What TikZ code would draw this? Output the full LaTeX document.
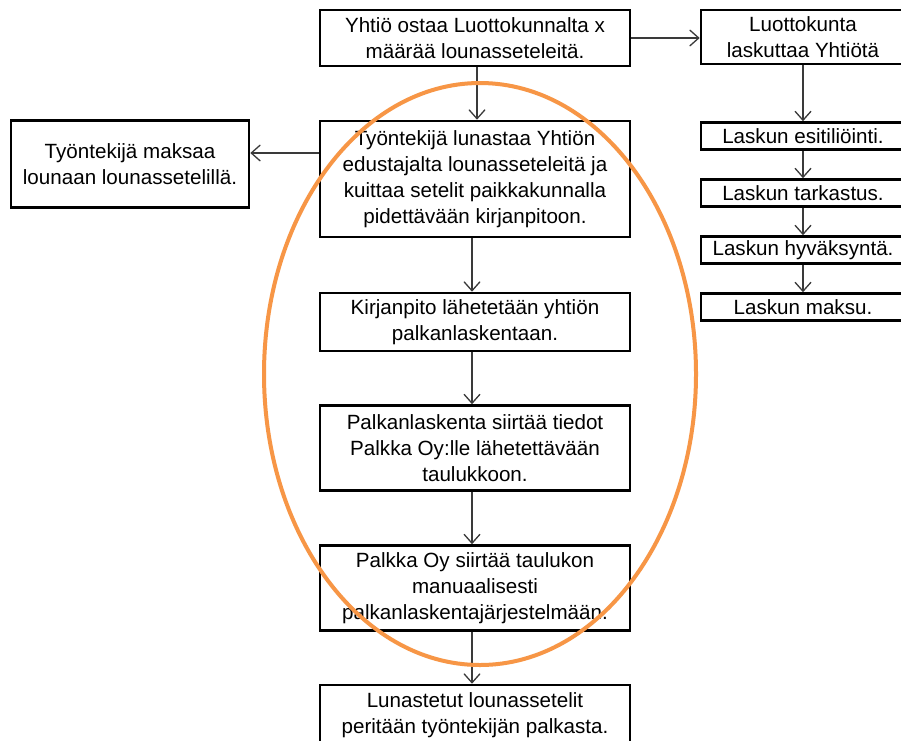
\documentclass[tikz,border=0pt]{standalone}
\usepackage{fontspec}
\setmainfont{Liberation Sans}
\usepackage{xcolor}
\usepackage{tikz}
\usetikzlibrary{arrows.meta, positioning}

\definecolor{oranssi}{HTML}{F79646}
\definecolor{nuolenharmaa}{HTML}{3A3A3A}

\begin{document}
\begin{tikzpicture}[x=1pt, y=-1pt,
    >={Straight Barb[length=9pt, width=16pt]},
    laatikko/.style={draw, line width=2.6pt, inner sep=0pt, align=center,
        font=\fontsize{20.6}{26}\selectfont},
    keski/.style={laatikko, minimum width=310pt},
    oikea/.style={laatikko, minimum width=204pt, minimum height=27pt},
    nuoli/.style={->, line width=1.3pt, draw=nuolenharmaa}]

    % =================================================================
    % 1. KUVAN RAJAT
    % =================================================================
    \useasboundingbox (0,0) rectangle (901,740);
    \clip (0,0) rectangle (901,740);
    \fill[white] (0,0) rectangle (901,740);

    % =================================================================
    % 2. KESKIMMÄINEN SARAKE
    % =================================================================
    \node[keski, minimum height=56pt] (yhtio) at (475,38)
        {Yhtiö ostaa Luottokunnalta x\\määrää lounasseteleitä.};
    \node[keski, minimum height=116pt] (lunastaa) at (475,179)
        {Työntekijä lunastaa Yhtiön\\edustajalta lounasseteleitä ja\\kuittaa setelit paikkakunnalla\\pidettävään kirjanpitoon.};
    \node[keski, minimum height=58pt] (kirjanpito) at (475,322)
        {Kirjanpito lähetetään yhtiön\\palkanlaskentaan.};
    \node[keski, minimum height=85pt] (siirtaa) at (475,448)
        {Palkanlaskenta siirtää tiedot\\Palkka Oy:lle lähetettävään\\taulukkoon.};
    \node[keski, minimum height=85pt] (palkkaoy) at (475,588)
        {Palkka Oy siirtää taulukon\\manuaalisesti\\palkanlaskentajärjestelmään.};
    \node[keski, minimum height=60pt] (peritaan) at (475,715)
        {Lunastetut lounassetelit\\peritään työntekijän palkasta.};

    % Vasen laatikko
    \node[laatikko, minimum width=238pt, minimum height=87pt] (maksaa) at (130,164)
        {Työntekijä maksaa\\lounaan lounassetelillä.};

    % =================================================================
    % 3. OIKEA SARAKE (LASKUTUS)
    % =================================================================
    \node[laatikko, minimum width=204pt, minimum height=54pt] (luotto) at (803,37)
        {Luottokunta\\laskuttaa Yhtiötä};
    \node[oikea] (esit) at (803,136) {Laskun esitiliöinti.};
    \node[oikea] (tark) at (803,193) {Laskun tarkastus.};
    \node[oikea] (hyv) at (803,250) {Laskun hyväksyntä.};
    \node[oikea] (maksu) at (803,307) {Laskun maksu.};

    % =================================================================
    % 4. NUOLET
    % =================================================================
    \draw[nuoli] ([xshift=2pt]yhtio.south) -- ([xshift=2pt]lunastaa.north);
    \draw[nuoli] ([xshift=-3pt]lunastaa.south) -- ([xshift=-3pt]kirjanpito.north);
    \draw[nuoli] ([xshift=-3pt]kirjanpito.south) -- ([xshift=-3pt]siirtaa.north);
    \draw[nuoli] ([xshift=-3pt]siirtaa.south) -- ([xshift=-3pt]palkkaoy.north);
    \draw[nuoli] ([xshift=-3pt]palkkaoy.south) -- ([xshift=-3pt]peritaan.north);

    \draw[nuoli] (yhtio.east) -- (yhtio.east -| luotto.west);
    \draw[nuoli] ([yshift=26pt]lunastaa.west) -- ([yshift=26pt]lunastaa.west -| maksaa.east);

    \draw[nuoli] (luotto.south) -- (esit.north);
    \draw[nuoli] (esit.south) -- (tark.north);
    \draw[nuoli] (tark.south) -- (hyv.north);
    \draw[nuoli] (hyv.south) -- (maksu.north);

    % =================================================================
    % 5. ORANSSI KOROSTUSELLIPSI
    % =================================================================
    \draw[oranssi, line width=4pt] (480,374) ellipse [x radius=216pt, y radius=291pt];

\end{tikzpicture}
\end{document}
